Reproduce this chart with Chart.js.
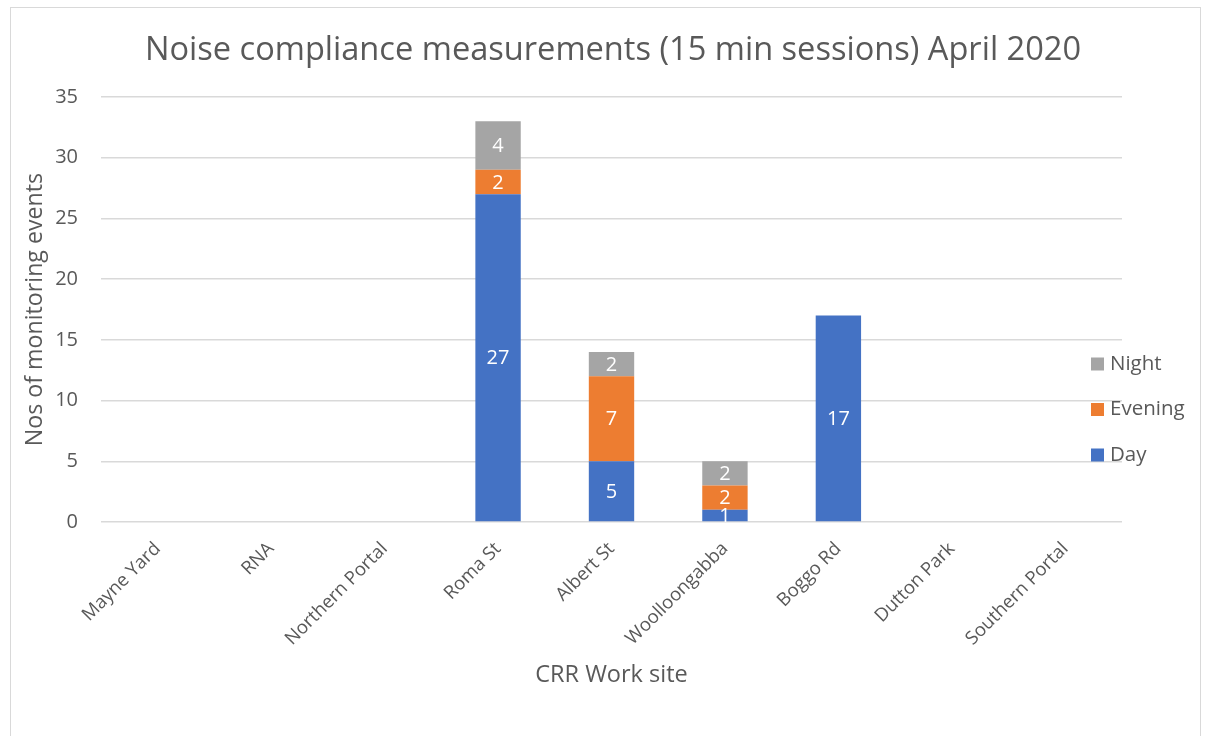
<!DOCTYPE html>
<html>
<head>
<meta charset="utf-8">
<title>Noise compliance measurements</title>
<script src="https://cdn.jsdelivr.net/npm/chart.js@4.4.0/dist/chart.umd.min.js"></script>
<style>
  html, body { margin: 0; padding: 0; background: #fff; }
  #frame { position: absolute; left: 10px; top: 7px; width: 1189px; height: 740px; border: 1px solid #d9d9d9; }
  #wrap { position: absolute; left: 0; top: 0; width: 1206px; height: 736px; }
</style>
</head>
<body>
<div id="frame"></div>
<div id="wrap"><canvas id="noiseChart" width="1206" height="736"></canvas></div>
<script>
// work sites on the x axis
const sites = ['Mayne Yard', 'RNA', 'Northern Portal', 'Roma St', 'Albert St',
  'Woolloongabba', 'Boggo Rd', 'Dutton Park', 'Southern Portal'];

// monitoring events per session type
const dayEvents = [0, 0, 0, 27, 5, 1, 17, 0, 0];
const eveningEvents = [0, 0, 0, 2, 7, 2, 0, 0, 0];
const nightEvents = [0, 0, 0, 4, 2, 2, 0, 0, 0];

const yTicks = [0, 5, 10, 15, 20, 25, 30, 35];

const chartTitle = 'Noise compliance measurements (15 min sessions) April 2020';

const TEXT_COLOR = '#595959';
const FONT = '"Open Sans", sans-serif';

Chart.defaults.font.family = FONT;
Chart.defaults.color = TEXT_COLOR;

// title is centred over the whole frame (not just the plot), so draw it here
const frameTitle = {
  id: 'frameTitle',
  afterDraw(chart) {
    const ctx = chart.ctx;
    ctx.save();
    ctx.font = '32.6px ' + FONT;
    ctx.fillStyle = TEXT_COLOR;
    ctx.textAlign = 'center';
    ctx.textBaseline = 'middle';
    ctx.fillText(chartTitle, 613, 51);
    ctx.restore();
  }
};

// white value labels in the middle of each segment (blank cells skipped)
const barValueLabels = {
  id: 'barValueLabels',
  afterDatasetsDraw(chart) {
    const ctx = chart.ctx;
    ctx.save();
    ctx.font = '20px ' + FONT;
    ctx.fillStyle = '#ffffff';
    ctx.textAlign = 'center';
    ctx.textBaseline = 'middle';
    chart.data.datasets.forEach((ds, i) => {
      const meta = chart.getDatasetMeta(i);
      meta.data.forEach((bar, j) => {
        const v = ds.data[j];
        if (!v) return;
        const p = bar.getProps(['x', 'y', 'base'], true);
        ctx.fillText(String(v), p.x, (p.y + p.base) / 2 + 1);
      });
    });
    ctx.restore();
  }
};

// legend on the right, Night on top like the original
const sideLegend = {
  id: 'sideLegend',
  afterDraw(chart) {
    const ctx = chart.ctx;
    const items = chart.data.datasets.slice().reverse();
    ctx.save();
    ctx.font = '20.5px ' + FONT;
    ctx.textAlign = 'left';
    ctx.textBaseline = 'middle';
    items.forEach((ds, k) => {
      const cy = 364 + k * 45.5;
      ctx.fillStyle = ds.backgroundColor;
      ctx.fillRect(1091, cy - 6.5, 13, 13);
      ctx.fillStyle = TEXT_COLOR;
      ctx.fillText(ds.label, 1110, cy);
    });
    ctx.restore();
  }
};

const chart = new Chart(document.getElementById('noiseChart').getContext('2d'), {
  type: 'bar',
  data: {
    labels: sites,
    datasets: [
      { label: 'Day', data: dayEvents, backgroundColor: '#4472C4' },
      { label: 'Evening', data: eveningEvents, backgroundColor: '#ED7D31' },
      { label: 'Night', data: nightEvents, backgroundColor: '#A5A5A5' }
    ]
  },
  options: {
    responsive: false,
    animation: false,
    devicePixelRatio: 1,
    categoryPercentage: 1,
    barPercentage: 0.4,
    layout: { padding: { left: 21, right: 84, top: 97, bottom: 35 } },
    plugins: {
      legend: { display: false },
      tooltip: { enabled: false },
      title: { display: false }
    },
    scales: {
      x: {
        stacked: true,
        grid: { display: false },
        border: { display: false },
        ticks: {
          color: TEXT_COLOR,
          font: { size: 18.5 },
          minRotation: 45,
          maxRotation: 45,
          padding: 8
        },
        title: {
          display: true,
          text: 'CRR Work site',
          color: TEXT_COLOR,
          font: { size: 23.5 },
          padding: { top: 0, bottom: 12 }
        },
        afterFit(scale) { scale.height = 179; }
      },
      y: {
        stacked: true,
        min: 0,
        max: 35,
        afterBuildTicks(scale) { scale.ticks = yTicks.map(v => ({ value: v })); },
        grid: { color: '#d9d9d9', lineWidth: 1.5, drawTicks: false },
        border: { display: false },
        ticks: { color: TEXT_COLOR, font: { size: 20 }, padding: 23 },
        title: {
          display: true,
          text: 'Nos of monitoring events',
          color: TEXT_COLOR,
          font: { size: 23.2 },
          padding: { top: 0, bottom: 0 }
        },
        afterFit(scale) { scale.width = 80; }
      }
    }
  },
  plugins: [barValueLabels, sideLegend, frameTitle]
});
</script>
</body>
</html>
